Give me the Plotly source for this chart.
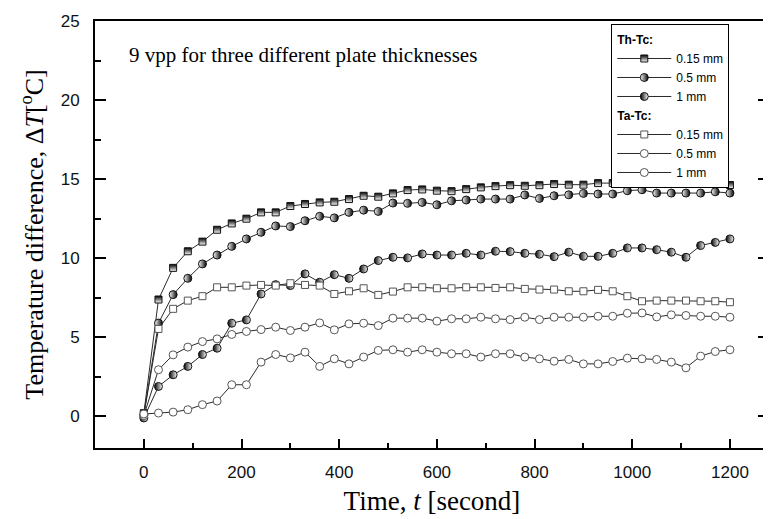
import plotly.graph_objects as go

# ---- data ----
time_s = [0, 30, 60, 90, 120, 150, 180, 210, 240, 270, 300, 330, 360, 390, 420, 450, 480,
          510, 540, 570, 600, 630, 660, 690, 720, 750, 780, 810, 840, 870, 900, 930, 960,
          990, 1020, 1050, 1080, 1110, 1140, 1170, 1200]

th_015 = [0.2, 7.39, 9.39, 10.44, 11.05, 11.8, 12.2, 12.5, 12.9, 12.9, 13.3, 13.43, 13.53,
          13.57, 13.74, 13.95, 13.89, 14.1, 14.31, 14.35, 14.27, 14.24, 14.37, 14.48, 14.56,
          14.62, 14.58, 14.62, 14.69, 14.65, 14.65, 14.75, 14.75, 14.69, 14.75, 14.73, 14.73,
          14.79, 14.75, 14.75, 14.63]
th_05 = [0.1, 5.9, 7.7, 8.73, 9.64, 10.2, 10.75, 11.22, 11.64, 12.04, 12.0, 12.37, 12.65,
         12.55, 12.9, 13.04, 12.96, 13.49, 13.47, 13.53, 13.38, 13.63, 13.68, 13.74, 13.74,
         13.74, 14.0, 13.78, 13.95, 14.01, 14.1, 14.06, 14.06, 14.27, 14.33, 14.12, 14.12,
         14.12, 14.12, 14.2, 14.12]
th_1 = [-0.1, 1.89, 2.63, 3.16, 3.91, 4.31, 5.89, 6.1, 7.74, 8.33, 8.27, 9.01, 8.48,
        8.96, 8.73, 9.32, 9.85, 10.06, 10.02, 10.27, 10.2, 10.2, 10.31, 10.2, 10.44,
        10.42, 10.31, 10.25, 10.1, 10.38, 10.12, 10.12, 10.31, 10.65, 10.65, 10.54, 10.38,
        10.06, 10.8, 11.0, 11.22]
ta_015 = [0.1, 5.53, 6.8, 7.32, 7.6, 8.16, 8.16, 8.27, 8.31, 8.27, 8.42, 8.31, 8.27,
          7.74, 7.91, 8.1, 7.68, 7.89, 8.16, 8.16, 8.1, 8.1, 8.16, 8.16, 8.12,
          8.16, 8.06, 8.02, 8.02, 7.91, 7.91, 8.0, 7.91, 7.6, 7.28, 7.32, 7.32,
          7.32, 7.28, 7.28, 7.22]
ta_05 = [0.05, 2.95, 3.89, 4.38, 4.73, 4.9, 5.18, 5.37, 5.49, 5.64, 5.43, 5.64, 5.91,
         5.47, 5.85, 5.89, 5.74, 6.21, 6.21, 6.21, 6.02, 6.17, 6.17, 6.27, 6.17,
         6.12, 6.27, 6.12, 6.27, 6.27, 6.27, 6.33, 6.33, 6.52, 6.54, 6.29, 6.42,
         6.38, 6.33, 6.33, 6.27]
ta_1 = [0.15, 0.21, 0.27, 0.42, 0.74, 0.97, 2.0, 2.0, 3.43, 3.91, 3.7, 4.06, 3.16,
        3.64, 3.32, 3.75, 4.17, 4.21, 4.06, 4.21, 4.06, 3.96, 3.96, 3.75, 3.96,
        3.96, 3.75, 3.64, 3.49, 3.6, 3.32, 3.32, 3.47, 3.68, 3.64, 3.6, 3.43,
        3.07, 3.81, 4.1, 4.21]

labels = ["0.15 mm", "0.5 mm", "1 mm"]
group_titles = ["Th-Tc:", "Ta-Tc:"]
x_ticks = [0, 200, 400, 600, 800, 1000, 1200]
y_ticks = [0, 5, 10, 15, 20, 25]

SANS = "Liberation Sans, Arial, sans-serif"
SERIF = "Liberation Serif, Times New Roman, serif"
LINE = "#2a2a2a"

fig = go.Figure()

def add(y, name, group, gtitle, symbol, color, gcolor, gtype, size):
    marker = dict(symbol=symbol, size=size, color=color,
                  line=dict(color="#111111", width=1))
    if gtype:
        marker["gradient"] = dict(type=gtype, color=gcolor)
    fig.add_trace(go.Scatter(
        x=time_s, y=y, name=name, mode="lines+markers",
        line=dict(color=LINE, width=1), marker=marker,
        legendgroup=group,
        legendgrouptitle=dict(text=gtitle, font=dict(family=SANS, size=12, color="black")),
    ))

add(th_015, labels[0], "th", "<b>" + group_titles[0] + "</b>", "square", "black", "white", "vertical", 7)
add(th_05, labels[1], "th", "<b>" + group_titles[0] + "</b>", "circle", "white", "black", "horizontal", 8)
add(th_1, labels[2], "th", "<b>" + group_titles[0] + "</b>", "circle", "black", "white", "horizontal", 8)

def add_open(y, name, symbol, size):
    fig.add_trace(go.Scatter(
        x=time_s, y=y, name=name, mode="lines+markers",
        line=dict(color=LINE, width=1),
        marker=dict(symbol=symbol, size=size, color="white",
                    line=dict(color="#555555", width=1)),
        legendgroup="ta",
        legendgrouptitle=dict(text="<b>" + group_titles[1] + "</b>",
                              font=dict(family=SANS, size=12, color="black")),
    ))

add_open(ta_015, labels[0], "square", 7)
add_open(ta_05, labels[1], "circle", 8)
add_open(ta_1, labels[2], "circle", 8)

fig.add_annotation(
    text="9 vpp for three different plate thicknesses",
    xref="paper", yref="paper", x=0.047, y=0.92, xanchor="left", yanchor="middle",
    showarrow=False, font=dict(family=SERIF, size=21, color="black"),
)

# page has an 8px body margin, so the figure is drawn 8px smaller and shifted
fig.update_layout(
    width=763, height=511,
    margin=dict(l=87, r=2, t=13, b=71, autoexpand=False),
    paper_bgcolor="white", plot_bgcolor="white",
    showlegend=True,
    legend=dict(
        x=0.766, y=0.993, xanchor="left", yanchor="top",
        bgcolor="white", bordercolor="black", borderwidth=1,
        font=dict(family=SANS, size=12, color="black"),
        traceorder="grouped", tracegroupgap=0, itemwidth=54,
    ),
    xaxis=dict(
        range=[-100, 1280], tickmode="array", tickvals=x_ticks,
        ticktext=[str(v) for v in x_ticks],
        ticks="inside", ticklen=9, tickwidth=1.5, tickcolor="black",
        minor=dict(dtick=100, tick0=0, ticks="inside", ticklen=5, tickwidth=1.5, tickcolor="black"),
        showline=True, linewidth=2, linecolor="black", mirror=True,
        showgrid=False, zeroline=False, automargin=False,
        tickfont=dict(family=SANS, size=17, color="#111111"),
        ticklabelstandoff=8,
        title=dict(text="Time, <i>t</i> [second]", standoff=10,
                   font=dict(family=SERIF, size=27, color="black")),
    ),
    yaxis=dict(
        range=[-2, 25], tickmode="array", tickvals=y_ticks,
        ticktext=[str(v) for v in y_ticks],
        ticks="inside", ticklen=11, tickwidth=1.5, tickcolor="black",
        minor=dict(dtick=2.5, tick0=0, ticks="inside", ticklen=6, tickwidth=1.5, tickcolor="black"),
        showline=True, linewidth=2, linecolor="black", mirror="ticks",
        showgrid=False, zeroline=False, automargin=False,
        tickfont=dict(family=SANS, size=17, color="#111111"),
        ticklabelstandoff=10,
        title=dict(text="Temperature difference, Δ<i>T</i>[<sup>o</sup>C]", standoff=10,
                   font=dict(family=SERIF, size=26, color="black")),
    ),
)

fig.write_html("out.html")
